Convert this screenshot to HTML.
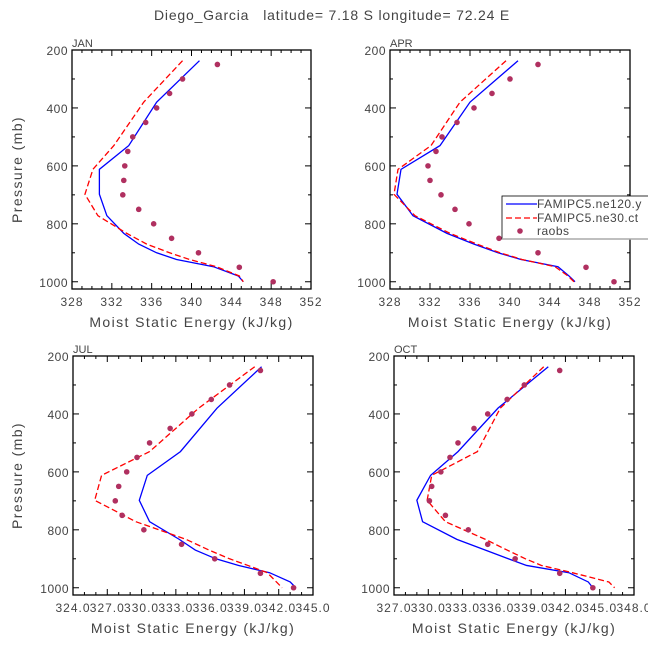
<!DOCTYPE html>
<html><head><meta charset="utf-8"><style>
html,body{margin:0;padding:0;background:#fff;}
svg{display:block;font-family:"Liberation Sans",sans-serif;}
</style></head><body>
<svg id="chart" width="648" height="649" viewBox="0 0 648 649" xmlns="http://www.w3.org/2000/svg">
<text x="332" y="20" text-anchor="middle" font-size="14" fill="#444" letter-spacing="0.8" style="white-space:pre">Diego_Garcia   latitude= 7.18 S longitude= 72.24 E</text>
</svg>
<script>
const levels=[237,380,530,612,698,772,833,870,900,923,948,980,1000];
const raobLevels=[250,300,350,400,450,500,550,600,650,700,750,800,850,900,950,1000];
const janBlue=[340.8,336.5,333.7,330.75,330.75,331.5,333.2,334.7,336.5,338.5,342.2,344.7,345.2];
const janRed=[339.1,335.2,332.2,330.1,329.3,330.6,333.5,335.5,337.8,339.8,342.5,344.8,345.2];
const janObs=[342.6,339.1,337.8,336.5,335.4,334.1,333.6,333.3,333.2,333.1,334.7,336.2,338.0,340.7,344.8,348.2];
const aprBlue=[340.8,336,333,329.1,328.7,330.3,333.7,336.4,338.8,341.1,344.8,345.9,346.5];
const aprRed=[339.6,335.0,332.1,328.8,328.4,330.5,334.0,336.7,339.0,341.2,344.5,345.8,346.4];
const aprObs=[342.8,340,338.2,336.4,334.7,333.2,332.6,331.8,332,333.1,334.5,335.9,338.9,342.8,347.6,350.4];
const julBlue=[340.5,336.6,333.4,330.5,329.8,330.7,333.3,334.7,336.5,338.5,341.2,343.0,343.5];
const julRed=[339.9,335.0,330.7,326.5,325.9,329.5,333.9,335.9,337.7,339.3,341.0,341.8,342.3];
const julObs=[340.4,337.7,336.1,334.4,332.5,330.7,329.6,328.7,328.0,327.7,328.3,330.2,333.5,336.4,340.4,343.3];
const octBlue=[340.5,336.1,332.6,330.2,329.0,329.5,332.5,335.0,337.0,338.6,342.3,344.0,344.4];
const octRed=[340.1,336.3,334.3,330.3,329.9,331.5,335.0,336.9,338.5,339.9,342.6,345.8,346.3];
const octObs=[341.5,338.4,336.9,335.2,334.0,332.6,331.9,331.1,330.3,330.1,331.5,333.5,335.2,337.6,341.5,344.4];
const janTicks=["328","332","336","340","344","348","352"];
const aprTicks=["328","332","336","340","344","348","352"];
const julTicks=["324.0","327.0","330.0","333.0","336.0","339.0","342.0","345.0"];
const octTicks=["327.0","330.0","333.0","336.0","339.0","342.0","345.0","348.0"];
const yTicks=[200,400,600,800,1000];

const NS="http://www.w3.org/2000/svg";
const svg=document.getElementById('chart');
function mk(tag,attrs,parent){const e=document.createElementNS(NS,tag);for(const k in attrs)e.setAttribute(k,attrs[k]);(parent||svg).appendChild(e);return e;}

const panels=[
 {name:'jan',title:'JAN',x0:72,x1:311,top:50,xmin:328,xmax:352,minor:1,ticks:janTicks,blue:janBlue,red:janRed,obs:janObs},
 {name:'apr',title:'APR',x0:390,x1:630,top:50,xmin:328,xmax:352,minor:1,ticks:aprTicks,blue:aprBlue,red:aprRed,obs:aprObs,noYTitle:true},
 {name:'jul',title:'JUL',x0:73,x1:313,top:356,xmin:324,xmax:345,minor:1,ticks:julTicks,blue:julBlue,red:julRed,obs:julObs},
 {name:'oct',title:'OCT',x0:394,x1:634,top:356,xmin:327,xmax:348,minor:1,ticks:octTicks,blue:octBlue,red:octRed,obs:octObs,noYTitle:true}
];
const H=239, PMIN=200, PMAX=1025;

panels.forEach(P=>{
 const g=mk('g',{});
 
 
 const xs=v=>P.x0+(v-P.xmin)*(P.x1-P.x0)/(P.xmax-P.xmin);
 const ys=p=>P.top+(p-PMIN)*H/(PMAX-PMIN);
 const bot=P.top+H;
 const clipId='clip-'+P.name;
 const cp=mk('clipPath',{id:clipId},g);
 mk('rect',{x:P.x0,y:P.top,width:P.x1-P.x0,height:H},cp);
 const nT=P.ticks.length-1;
 for(let v=P.xmin;v<=P.xmax+1e-6;v+=P.minor){
  const x=xs(v);const f=(v-P.xmin)/(P.xmax-P.xmin)*nT;
  const major=Math.abs(f-Math.round(f))<1e-6;
  const L=major?6:3;
  mk('line',{x1:x,y1:bot,x2:x,y2:bot-L,stroke:'#000','stroke-width':1},g);
  mk('line',{x1:x,y1:P.top,x2:x,y2:P.top+L,stroke:'#000','stroke-width':1},g);
 }
 P.ticks.forEach((t,i)=>{
  const v=P.xmin+i*(P.xmax-P.xmin)/nT;
  const tx=mk('text',{x:xs(v),y:bot+17,'text-anchor':'middle','font-size':12,fill:'#444','letter-spacing':'1'},g);
  
  
  tx.textContent=t;
 });
 for(let p=200;p<=1000;p+=100){
  const y=ys(p);const L=(p%200===0)?6:3;
  mk('line',{x1:P.x0,y1:y,x2:P.x0+L,y2:y,stroke:'#000','stroke-width':1},g);
  mk('line',{x1:P.x1,y1:y,x2:P.x1-L,y2:y,stroke:'#000','stroke-width':1},g);
 }
 yTicks.forEach(p=>{
  const ty=mk('text',{x:P.x0-4,y:ys(p)+5,'text-anchor':'end','font-size':12,fill:'#444','letter-spacing':'0.5'},g);
  
  
  ty.textContent=p;
 });
 const fr=mk('rect',{x:P.x0,y:P.top,width:P.x1-P.x0,height:H,fill:'none',stroke:'#000','stroke-width':1.3},g);
 
 
 const tt=mk('text',{x:P.x0,y:P.top-3,'font-size':11,fill:'#444'},g);
 
 
 tt.textContent=P.title;
 const xt=mk('text',{x:(P.x0+P.x1)/2,y:bot+38,'text-anchor':'middle','font-size':14,fill:'#444','letter-spacing':'1.4'},g);
 
 
 xt.textContent='Moist Static Energy (kJ/kg)';
 if(!P.noYTitle){
  const yt=mk('text',{x:0,y:0,transform:`translate(22,${P.top+H/2}) rotate(-90)`,'text-anchor':'middle','font-size':14,fill:'#444','letter-spacing':'1.4'},g);
  
  
  yt.textContent='Pressure (mb)';
 }
 const blue=mk('polyline',{points:levels.map((p,i)=>xs(P.blue[i])+','+ys(p)).join(' '),fill:'none',stroke:'#0000ff','stroke-width':1.3,'clip-path':`url(#${clipId})`},g);
 
 
 const red=mk('polyline',{points:levels.map((p,i)=>xs(P.red[i])+','+ys(p)).join(' '),fill:'none',stroke:'#ff0000','stroke-width':1.3,'stroke-dasharray':'6,3','clip-path':`url(#${clipId})`},g);
 
 
 raobLevels.forEach((p,i)=>{
  const c=mk('circle',{cx:xs(P.obs[i]),cy:ys(p),r:2.8,fill:'#b03060'},g);
  
  
 });
});

const lg=mk('g',{});


mk('rect',{x:502,y:196,width:160,height:43,fill:'#fff',stroke:'#000','stroke-width':0.8},lg);
mk('line',{x1:502,y1:239,x2:648,y2:239,stroke:'#aaa','stroke-width':1.5},lg);
const e1=mk('line',{x1:506,y1:204,x2:537,y2:204,stroke:'#0000ff','stroke-width':1.3},lg);


const e2=mk('line',{x1:506,y1:218,x2:537,y2:218,stroke:'#ff0000','stroke-width':1.3,'stroke-dasharray':'6,3'},lg);


const e3=mk('circle',{cx:520,cy:231,r:2.8,fill:'#b03060'},lg);


[['FAMIPC5.ne120.y',208],['FAMIPC5.ne30.ct',222],['raobs',235]].forEach(([t,y])=>{
 const tx=mk('text',{x:537,y:y,'font-size':12,fill:'#444','letter-spacing':'0.5'},lg);
 
 
 tx.textContent=t;
});
</script>
</body></html>
